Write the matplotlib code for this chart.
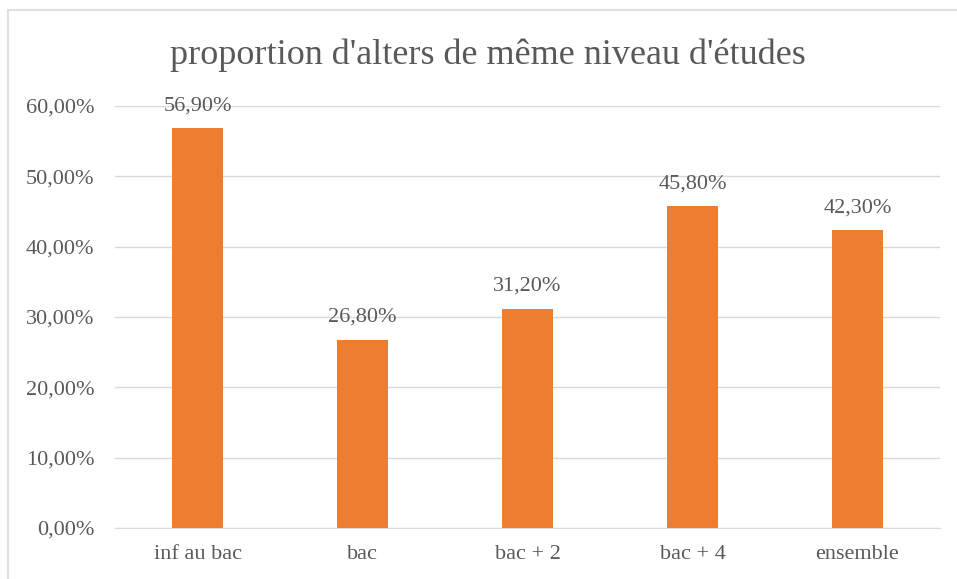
import matplotlib.pyplot as plt
from matplotlib.lines import Line2D

categories = ['inf au bac', 'bac', 'bac + 2', 'bac + 4', 'ensemble']
values = [56.9, 26.8, 31.2, 45.8, 42.3]
y_ticks = [0, 10, 20, 30, 40, 50, 60]

TEXT_COL = '#595959'
BAR_COL = '#ED7D31'
GRID_COL = '#d9d9d9'

plt.rcParams['font.family'] = ['Liberation Serif', 'DejaVu Serif']

def pct(v):
    return ('%.2f%%' % v).replace('.', ',')

fig = plt.figure(figsize=(9.57, 5.79), dpi=100)
ax = fig.add_axes([115/957, 1 - 528/579, 825/957, (528 - 106)/579])

x = range(len(categories))
ax.bar(x, values, width=0.31, color=BAR_COL, zorder=3)
for i, v in enumerate(values):
    ax.text(i, v + 1.8, pct(v), ha='center', va='bottom', fontsize=16, color=TEXT_COL)

ax.set_xlim(-0.5, len(categories) - 0.5)
ax.set_ylim(0, 60)
ax.set_yticks(y_ticks)
ax.set_yticklabels([pct(t) for t in y_ticks], fontsize=16, color=TEXT_COL)
ax.set_xticks(list(x))
ax.set_xticklabels(categories, fontsize=16, color=TEXT_COL)
ax.tick_params(axis='y', length=0, pad=15)
ax.tick_params(axis='x', length=0, pad=12)
ax.yaxis.grid(True, color=GRID_COL, linewidth=1)
ax.set_axisbelow(True)
for s in ['top', 'right', 'left']:
    ax.spines[s].set_visible(False)
ax.spines['bottom'].set_color(GRID_COL)

fig.text(488/957, 1 - 55/579, "proportion d'alters de même niveau d'études",
         ha='center', va='center', fontsize=26, color=TEXT_COL)

# chart border (left and top edges visible)
fig.add_artist(Line2D([8/957, 8/957], [0, 1 - 10/579], transform=fig.transFigure, color=GRID_COL, lw=1.2))
fig.add_artist(Line2D([8/957, 1], [1 - 10/579, 1 - 10/579], transform=fig.transFigure, color=GRID_COL, lw=1.2))

fig.savefig('out.png', dpi=100)
